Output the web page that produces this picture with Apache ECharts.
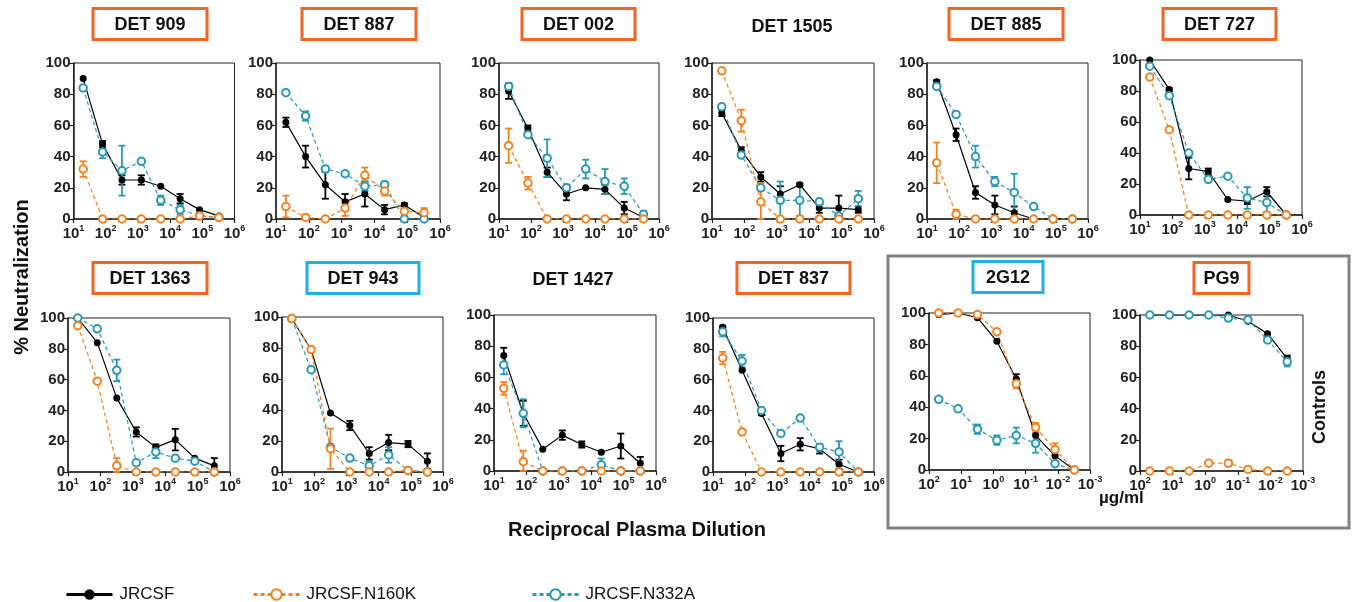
<!DOCTYPE html>
<html>
<head>
<meta charset="utf-8">
<script src="https://cdn.jsdelivr.net/npm/echarts@6/dist/echarts.min.js"></script>
<style>
  html, body { margin: 0; padding: 0; background: #fff; }
  #chart { width: 1354px; height: 602px; }
</style>
</head>
<body>
<div id="chart"></div>
<script>
// x values: reciprocal plasma dilutions (DET panels) and mAb concentrations (controls)
const dilutions = [20, 80, 320, 1280, 5120, 20480, 81920, 327680];
const concentrations = [50, 12.5, 3.125, 0.781, 0.195, 0.0488, 0.0122, 0.00305];

const panelTitles = ['DET 909', 'DET 887', 'DET 002', 'DET 1505', 'DET 885', 'DET 727',
  'DET 1363', 'DET 943', 'DET 1427', 'DET 837', '2G12', 'PG9'];
// box colour for each title ('' = no box)
const titleBoxes = ['o', 'o', 'o', '', 'o', 'o', 'o', 'b', '', 'o', 'b', 'o'];

// % neutralization, one row per panel (same order as panelTitles)
const jrcsf = [
  [90, 48, 25, 25, 21, 13, 6, 2],
  [62, 40, 22, 11, 16, 6, 9, 1],
  [82, 58, 30, 16, 20, 19, 7, 1],
  [68, 44, 27, 16, 22, 7, 7, 6],
  [88, 54, 17, 9, 4, 0, 0, 0],
  [100, 81, 30, 28, 10, 9, 15, 0],
  [100, 84, 48, 26, 16, 21, 9, 4],
  [99, 79, 38, 30, 12, 19, 18, 7],
  [74, 37, 14, 23, 17, 12, 16, 5],
  [94, 66, 38, 12, 18, 15, 5, 0],
  [99, 100, 97, 82, 58, 22, 9, 0],
  [100, 100, 100, 100, 100, 96, 88, 72]
];
const jrcsfErr = [
  [0, 2, 3, 3, 0, 3, 0, 0],
  [3, 7, 9, 5, 8, 3, 1, 0],
  [5, 2, 3, 4, 0, 3, 4, 0],
  [2, 2, 3, 5, 1, 3, 8, 2],
  [1, 4, 4, 6, 4, 0, 0, 0],
  [0, 1, 7, 2, 0, 2, 3, 0],
  [0, 0, 0, 3, 2, 7, 0, 5],
  [0, 0, 0, 3, 4, 5, 2, 5],
  [5, 8, 0, 3, 2, 0, 8, 4],
  [1, 0, 1, 5, 4, 3, 3, 0],
  [0, 0, 0, 0, 3, 0, 4, 0],
  [0, 0, 0, 0, 0, 0, 0, 2]
];
const n160k = [
  [32, 0, 0, 0, 0, 0, 2, 1],
  [8, 1, 0, 7, 28, 18, 5, 4],
  [47, 23, 0, 0, 0, 0, 0, 0],
  [95, 63, 11, 0, 0, 0, 0, 0],
  [36, 3, 0, 0, 0, 0, 0, 0],
  [89, 55, 0, 0, 0, 0, 0, 0],
  [95, 59, 4, 0, 0, 0, 0, 0],
  [99, 79, 15, 0, 0, 0, 1, 0],
  [53, 6, 0, 0, 0, 0, 0, 0],
  [74, 26, 0, 0, 0, 0, 0, 0],
  [100, 100, 99, 88, 55, 27, 13, 0],
  [0, 0, 0, 5, 5, 1, 0, 0]
];
const n160kErr = [
  [5, 0, 0, 0, 0, 0, 0, 0],
  [7, 0, 0, 5, 5, 3, 3, 3],
  [11, 4, 0, 0, 0, 0, 0, 0],
  [0, 7, 12, 0, 0, 0, 0, 0],
  [13, 3, 0, 0, 0, 0, 0, 0],
  [0, 0, 0, 0, 0, 0, 0, 0],
  [0, 0, 5, 0, 0, 0, 0, 0],
  [0, 0, 13, 0, 0, 0, 0, 0],
  [4, 7, 0, 0, 0, 0, 0, 0],
  [4, 0, 0, 0, 0, 0, 0, 0],
  [0, 0, 0, 0, 3, 3, 4, 0],
  [0, 0, 0, 0, 2, 0, 0, 0]
];
const n332a = [
  [84, 43, 31, 37, 12, 6, 2, 1],
  [81, 66, 32, 29, 21, 22, 0, 0],
  [85, 54, 39, 20, 32, 24, 21, 3],
  [72, 41, 20, 12, 12, 11, 2, 13],
  [85, 67, 40, 24, 17, 8, 0, 0],
  [96, 77, 40, 23, 25, 11, 8, 0],
  [100, 93, 66, 6, 13, 9, 7, 0],
  [99, 66, 16, 9, 4, 11, 1, 0],
  [68, 37, 0, 0, 0, 4, 0, 0],
  [91, 72, 40, 25, 35, 16, 13, 0],
  [45, 39, 26, 19, 22, 17, 4, 0],
  [100, 100, 100, 100, 98, 97, 84, 70]
];
const n332aErr = [
  [0, 4, 16, 0, 3, 3, 0, 0],
  [1, 3, 2, 0, 3, 2, 0, 0],
  [2, 0, 12, 2, 6, 8, 5, 2],
  [0, 0, 0, 12, 10, 0, 0, 5],
  [0, 0, 7, 3, 12, 0, 0, 0],
  [0, 0, 0, 0, 0, 7, 6, 0],
  [0, 0, 7, 0, 4, 0, 0, 0],
  [0, 0, 0, 0, 3, 5, 0, 0],
  [6, 9, 0, 0, 0, 4, 0, 0],
  [3, 4, 0, 0, 0, 2, 7, 0],
  [0, 0, 3, 3, 5, 6, 0, 0],
  [0, 0, 0, 0, 0, 0, 0, 3]
];

const ORANGE = '#f5821f';
const TEAL = '#2899b8';
const BOX_ORANGE = '#f26522';
const BOX_BLUE = '#1eb0e6';
const FONT = 'Arial, "Liberation Sans", sans-serif';

// plot rectangles [left, top, width, height]
const grids = [
  [73.5, 63, 161, 156], [276, 63, 164, 156], [499, 63, 160, 156],
  [712, 63, 162, 156], [927, 63, 161, 156], [1140, 60, 162, 155],
  [68, 318, 162, 154], [282, 317, 161, 155], [494, 315, 162, 156],
  [713, 318, 161, 154], [929, 313, 161, 157], [1140, 315, 163, 156]
];
// title centres [x, y, box width]
const titlePos = [
  [150, 24, 114], [359, 24, 114], [578.5, 24, 113], [792, 26, 0], [1006, 24, 114], [1219.5, 24, 113],
  [150, 278, 114], [363, 278, 112], [573, 279, 0], [793.5, 278, 113], [1008, 277, 70], [1221.5, 278, 55]
];

const seriesDefs = [
  { name: 'JRCSF', values: jrcsf, errs: jrcsfErr, color: '#000', symbol: 'circle', dashed: false },
  { name: 'JRCSF.N332A', values: n332a, errs: n332aErr, color: TEAL, symbol: 'emptyCircle', dashed: true },
  { name: 'JRCSF.N160K', values: n160k, errs: n160kErr, color: ORANGE, symbol: 'emptyCircle', dashed: true }
];

const supRich = {
  b: { fontSize: 15, fontWeight: 'bold', color: '#222', fontFamily: FONT, lineHeight: 17, verticalAlign: 'bottom' },
  s: { fontSize: 9, fontWeight: 'bold', color: '#222', fontFamily: FONT, lineHeight: 10, verticalAlign: 'top' }
};
function powLabel(v) {
  return '{b|10}{s|' + Math.round(Math.log10(v)) + '}';
}

const gridOpt = [], xAxes = [], yAxes = [], series = [], graphics = [];

grids.forEach(function (g, i) {
  const isControl = i >= 10;
  gridOpt.push({
    left: g[0], top: g[1], width: g[2], height: g[3],
    show: true, borderColor: '#222', borderWidth: 1
  });
  xAxes.push({
    type: 'log', logBase: 10, gridIndex: i,
    min: isControl ? 0.001 : 10, max: isControl ? 100 : 1e6,
    inverse: isControl, splitNumber: 5,
    axisLine: { lineStyle: { color: '#222', width: 1.5 } },
    axisTick: { length: 4, lineStyle: { color: '#222', width: 1.2 } },
    minorTick: { show: false }, splitLine: { show: false },
    axisLabel: { formatter: powLabel, rich: supRich, margin: 5 }
  });
  yAxes.push({
    type: 'value', gridIndex: i, min: 0, max: 100, interval: 20,
    axisLine: { show: true, lineStyle: { color: '#222', width: 1.5 } },
    axisTick: { show: true, length: 4, lineStyle: { color: '#222', width: 1.2 } },
    splitLine: { show: false },
    axisLabel: { fontSize: 15, fontWeight: 'bold', color: '#222', fontFamily: FONT, margin: 3 }
  });

  const xs = isControl ? concentrations : dilutions;
  seriesDefs.forEach(function (d) {
    const vals = d.values[i], errs = d.errs[i];
    series.push({
      type: 'custom', name: 'err', xAxisIndex: i, yAxisIndex: i, silent: true, z: 3,
      data: xs.map(function (x, k) { return [x, Math.max(0, vals[k] - errs[k]), vals[k] + errs[k]]; })
        .filter(function (r, k) { return errs[k] > 0; }),
      renderItem: function (params, api) {
        const x = api.value(0);
        const lo = api.coord([x, api.value(1)]);
        const hi = api.coord([x, api.value(2)]);
        const st = { stroke: d.color, lineWidth: 1.8 };
        return {
          type: 'group', children: [
            { type: 'line', shape: { x1: lo[0], y1: lo[1], x2: hi[0], y2: hi[1] }, style: st },
            { type: 'line', shape: { x1: hi[0] - 3.5, y1: hi[1], x2: hi[0] + 3.5, y2: hi[1] }, style: st },
            { type: 'line', shape: { x1: lo[0] - 3.5, y1: lo[1], x2: lo[0] + 3.5, y2: lo[1] }, style: st }
          ]
        };
      }
    });
    series.push({
      type: 'line', name: d.name, xAxisIndex: i, yAxisIndex: i, z: 4,
      data: xs.map(function (x, k) { return [x, vals[k]]; }),
      symbol: d.symbol, symbolSize: d.symbol === 'circle' ? 7 : 7.5,
      lineStyle: { color: d.color, width: 1.2, type: d.dashed ? [4, 3] : 'solid' },
      itemStyle: { color: d.color, borderColor: d.color, borderWidth: d.symbol === 'circle' ? 0 : 1.8 },
      emphasis: { disabled: true }
    });
  });

  const t = titlePos[i];
  if (titleBoxes[i]) {
    graphics.push({
      type: 'rect', shape: { x: t[0] - t[2] / 2, y: t[1] - 15.5, width: t[2], height: 31 },
      style: { fill: '#fff', stroke: titleBoxes[i] === 'o' ? BOX_ORANGE : BOX_BLUE, lineWidth: 3 }
    });
  }
  graphics.push({
    type: 'text', z: 10,
    style: { text: panelTitles[i], x: t[0], y: t[1] + 1, font: 'bold 18px ' + FONT, fill: '#111',
      textAlign: 'center', textVerticalAlign: 'middle' }
  });
});

// controls frame and shared labels
graphics.push({
  type: 'rect', shape: { x: 888, y: 256, width: 461, height: 272 },
  style: { fill: 'none', stroke: '#808080', lineWidth: 3 }
});
graphics.push({
  type: 'text', x: 22, y: 277, rotation: Math.PI / 2,
  style: { text: '% Neutralization', font: 'bold 20px ' + FONT, fill: '#111', textAlign: 'center', textVerticalAlign: 'middle' }
});
graphics.push({
  type: 'text',
  style: { text: 'Reciprocal Plasma Dilution', x: 637, y: 530, font: 'bold 20px ' + FONT, fill: '#111', textAlign: 'center', textVerticalAlign: 'middle' }
});
graphics.push({
  type: 'text',
  style: { text: 'µg/ml', x: 1099, y: 498, font: 'bold 17px ' + FONT, fill: '#111', textAlign: 'left', textVerticalAlign: 'middle' }
});
graphics.push({
  type: 'text', x: 1320, y: 407, rotation: Math.PI / 2,
  style: { text: 'Controls', font: 'bold 18px ' + FONT, fill: '#111', textAlign: 'center', textVerticalAlign: 'middle' }
});

function legendAt(name, left) {
  return {
    data: [name], left: left, top: 581, itemWidth: 46, itemHeight: 13, selectedMode: false,
    textStyle: { fontSize: 17, color: '#111', fontFamily: FONT, padding: [0, 0, 0, 2] },
    lineStyle: { width: 3 }
  };
}

const chart = echarts.init(document.getElementById('chart'));
chart.setOption({
  animation: false,
  backgroundColor: '#fff',
  legend: [legendAt('JRCSF', 60), legendAt('JRCSF.N160K', 247), legendAt('JRCSF.N332A', 526)],
  grid: gridOpt,
  xAxis: xAxes,
  yAxis: yAxes,
  series: series,
  graphic: graphics
});
</script>
</body>
</html>
